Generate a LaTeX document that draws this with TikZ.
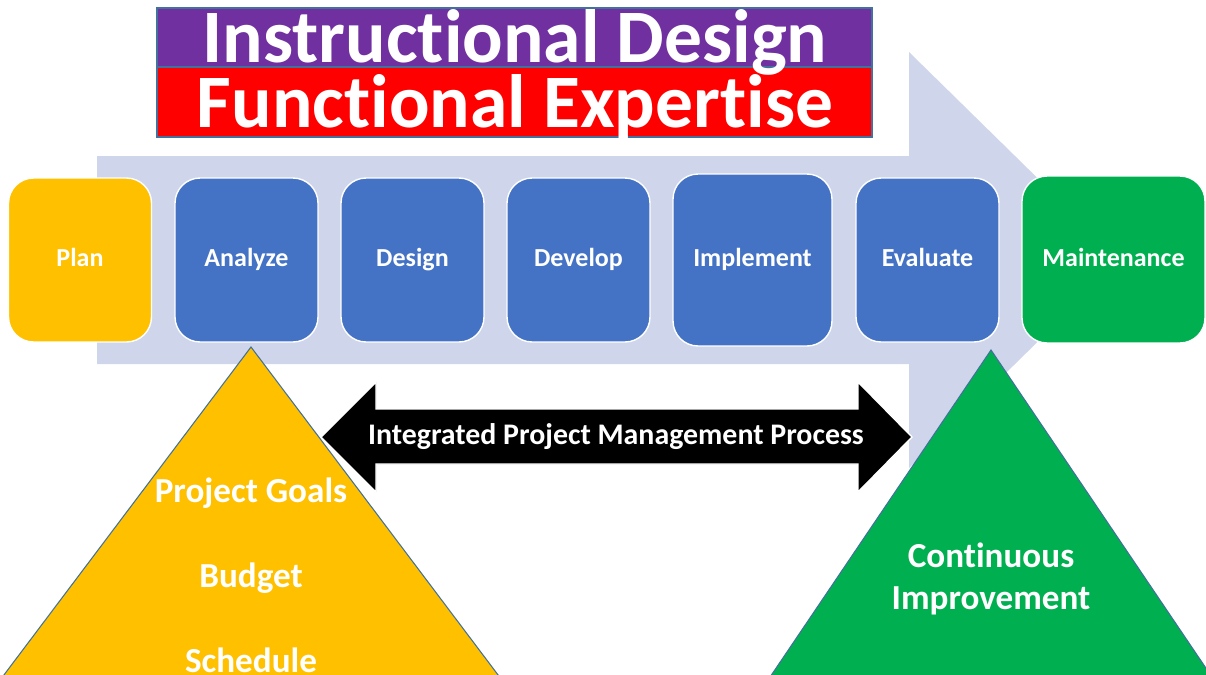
\documentclass[tikz,border=0pt]{standalone}
\usepackage{fontspec}
\setmainfont{Carlito}[Ligatures=NoCommon]
\usetikzlibrary{arrows}

\definecolor{idpurple}{HTML}{7030A0}
\definecolor{idred}{HTML}{FF0000}
\definecolor{idblue}{HTML}{4472C4}
\definecolor{idpale}{HTML}{CFD5EA}
\definecolor{idorange}{HTML}{FFC000}
\definecolor{idgreen}{HTML}{00B050}
\definecolor{idedge}{HTML}{41719C}

\tikzset{
  phase/.style={rounded corners=0.5cm, draw=white, line width=0.8pt, text=white,
    font=\fontsize{14.8}{16}\selectfont\bfseries, inner sep=0pt,
    text height=1.8ex, text depth=0.15ex,
    minimum width=2.86cm, minimum height=3.28cm},
  titletext/.style={text=white, font=\fontsize{43}{46}\selectfont\bfseries, inner sep=0pt, anchor=base},
  tritext/.style={text=white, font=\fontsize{20}{24}\selectfont\bfseries, inner sep=0pt}
}

\begin{document}
\begin{tikzpicture}[x=0.02cm, y=-0.02cm]
		\useasboundingbox (0,0) rectangle (1206,674);
		\clip (0,0) rectangle (1206,674);
		%%  big process arrow  %%%%%%%%
		\fill[idpale] (97,156) -- (909,156) -- (909,52) -- (1121,260) -- (909,468)
			-- (909,364) -- (97,364) -- cycle;
		%%  title bars  %%%%%%%%
		\draw[idedge, fill=idpurple, line width=0.6pt] (157,8) rectangle (872,67);
		\draw[idedge, fill=idred, line width=0.6pt] (157,67) rectangle (872,137);
		\node[titletext] (instr) at (515,62) {Instructional Design};
		\node[titletext] (funct) at (515,127) {Functional Expertise};
		%%  phases  %%%%%%%%
		\node[phase, fill=idorange] (plan) at (80,260) {Plan};
		\node[phase, fill=idblue] (analyze) at (246.5,260) {Analyze};
		\node[phase, fill=idblue] (design) at (412.5,260) {Design};
		\node[phase, fill=idblue] (develop) at (578.5,260) {Develop};
		\node[phase, fill=idblue, minimum width=3.18cm, minimum height=3.44cm] (implement) at (752.5,260) {Implement};
		\node[phase, fill=idblue] (evaluate) at (927.5,260) {Evaluate};
		\node[phase, fill=idgreen, minimum width=3.66cm, minimum height=3.34cm] (maint) at (1113.5,259.5) {Maintenance};
		%%  triangles  %%%%%%%%
		\draw[idedge, fill=idorange, line width=0.6pt] (251,347) -- (-30,720) -- (532,720) -- cycle;
		\draw[idedge, fill=idgreen, line width=0.6pt] (991,350) -- (741,720) -- (1241,720) -- cycle;
		\node[tritext] (goals) at (251,493) {Project Goals};
		\node[tritext] (budget) at (251,578) {Budget};
		\node[tritext] (sched) at (251,660) {Schedule};
		\node[tritext, align=center] (improve) at (991,579) {Continuous\\Improvement};
		%%  integrated process arrow  %%%%%%%%
		\draw[white, fill=black, line width=0.8pt] (321,437) -- (376,382) -- (376,409) -- (858,409)
			-- (858,382) -- (912,437) -- (858,492) -- (858,464) -- (376,464) -- (376,492) -- cycle;
		\node[text=white, font=\fontsize{17}{18}\selectfont\bfseries] (ipm) at (616,437)
			{Integrated Project Management Process};
		%%%%%%%%%%%%%%%
\end{tikzpicture}
\end{document}
